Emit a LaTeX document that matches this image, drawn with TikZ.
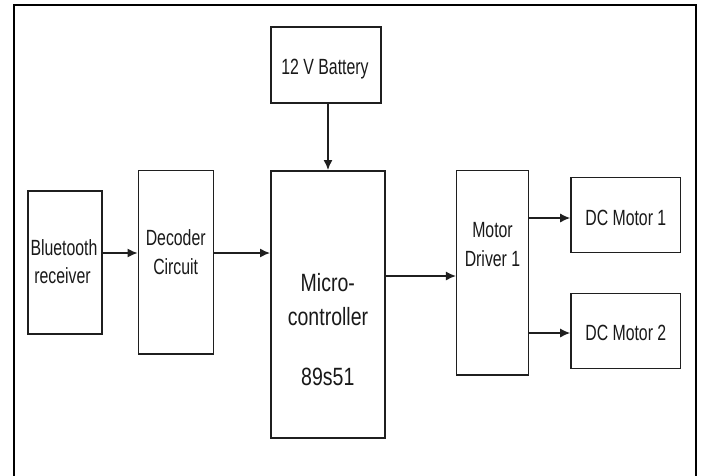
\documentclass[tikz,border=0pt]{standalone}
\usepackage{fontspec}
\usepackage{graphicx}
\setmainfont{Liberation Sans}
\usetikzlibrary{arrows.meta}
\newcommand{\nar}[1]{\scalebox{0.72}[1]{#1}}
\newcommand{\narb}[1]{\scalebox{0.78}[1]{#1}}
\tikzset{
  box/.style={draw=black!88, line width=1.5pt, inner sep=0pt, fill=white},
  txt/.style={font=\fontsize{22}{26}\selectfont, inner sep=0pt, anchor=base, text=black!90},
  bigtxt/.style={font=\fontsize{25}{30}\selectfont, inner sep=0pt, anchor=base, text=black!90},
  arr/.style={line width=1.4pt, draw=black!88, -{Latex[length=10pt,width=9pt]}},
  frameline/.style={line width=2pt, draw=black}
}
\begin{document}
\begin{tikzpicture}[x=1pt,y=-1pt]
\useasboundingbox (0,0) rectangle (704,475);
\fill[white] (0,0) rectangle (704,475);
% outer frame (open at the bottom, cropped)
\draw[frameline] (14,476) -- (14,5) -- (696,5) -- (696,476);

% boxes
\node[box, minimum width=110pt, minimum height=76pt] (bat) at (326,65) {};
\node[box, minimum width=74pt, minimum height=143pt] (blue) at (65,262.5) {};
\node[box, minimum width=75.4pt, minimum height=183.3pt] (dec) at (176,262.3) {};
\node[box, minimum width=114.3pt, minimum height=267.3pt] (micro) at (327.9,304.4) {};
\node[box, minimum width=71.6pt, minimum height=204.3pt] (drv) at (492.5,272.8) {};
\node[box, minimum width=109.7pt, minimum height=75pt] (m1) at (625.8,214.8) {};
\node[box, minimum width=109.7pt, minimum height=75pt] (m2) at (625.8,330.8) {};

% texts
\node[txt] (batt) at (325,74) {\nar{12 V Battery}};
\node[txt] (bluet1) at (64,255.7) {\nar{Bluetooth}};
\node[txt] (bluet2) at (62.5,283.3) {\nar{receiver}};
\node[txt] (dect1) at (175.7,245) {\nar{Decoder}};
\node[txt] (dect2) at (175.7,274.3) {\nar{Circuit}};
\node[bigtxt] (mict1) at (327.8,291.7) {\narb{Micro-}};
\node[bigtxt] (mict2) at (328,325.7) {\narb{controller}};
\node[bigtxt] (mict3) at (327.8,385) {\narb{89s51}};
\node[txt] (drvt1) at (492.5,237.7) {\nar{Motor}};
\node[txt] (drvt2) at (492.5,266.7) {\nar{Driver 1}};
\node[txt] (m1t) at (625.8,225) {\nar{DC Motor 1}};
\node[txt] (m2t) at (625.8,340) {\nar{DC Motor 2}};

% connectors
\draw[arr] (bat.south -| 328,0) -- (micro.north -| 328,0);
\draw[arr] (blue.east |- 0,253) -- (dec.west |- 0,253);
\draw[arr] (dec.east |- 0,253) -- (micro.west |- 0,253);
\draw[arr] (micro.east |- 0,276) -- (drv.west |- 0,276);
\draw[arr] (drv.east |- 0,218) -- (m1.west |- 0,218);
\draw[arr] (drv.east |- 0,333) -- (m2.west |- 0,333);
\end{tikzpicture}
\end{document}
